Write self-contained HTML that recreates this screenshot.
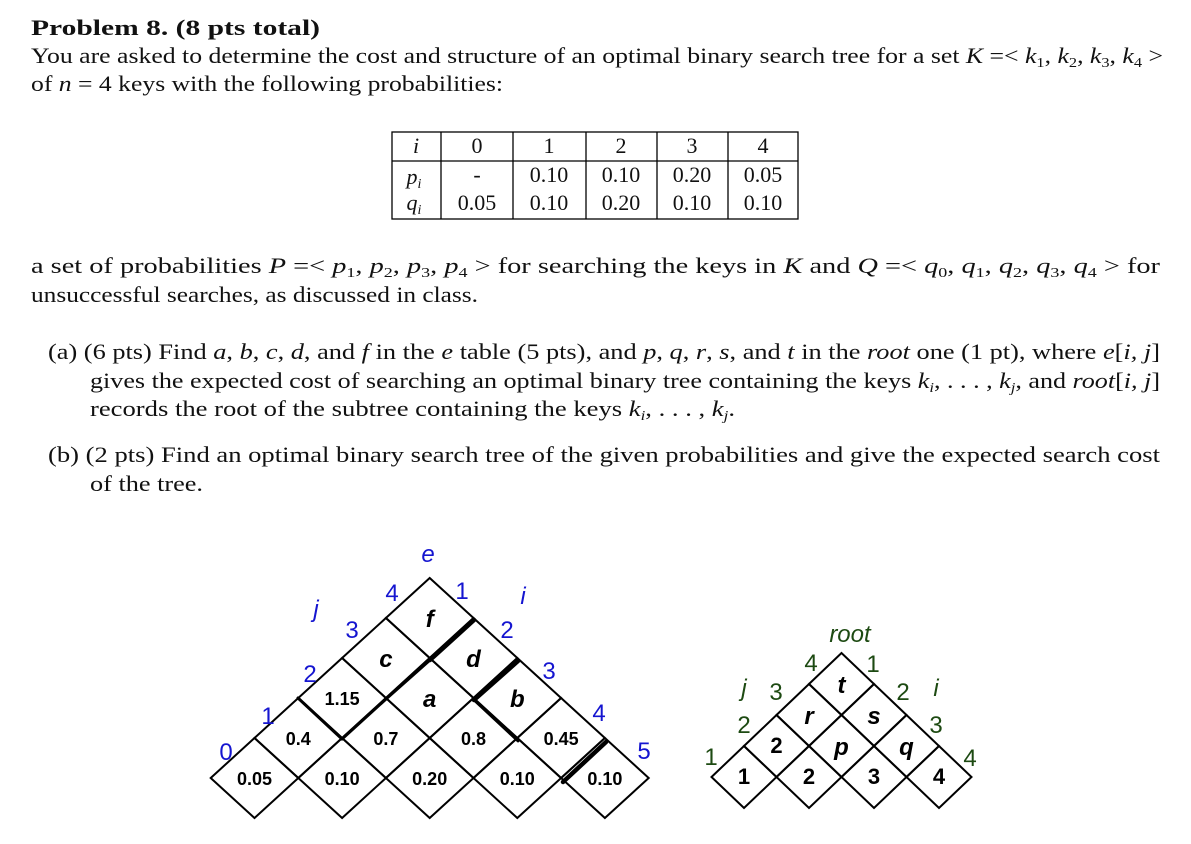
<!DOCTYPE html>
<html><head><meta charset="utf-8"><style>
html,body{margin:0;padding:0;background:#fff;}
svg{display:block;}
.t{font-family:"Liberation Serif",serif;font-size:22px;fill:#111;}
.it{font-style:italic;}
.s{font-size:14px;}
.lb{font-family:"Liberation Sans",sans-serif;font-size:24px;fill:#1515d0;}
.lg{font-family:"Liberation Sans",sans-serif;font-size:24px;fill:#1d4a12;}
.cv{font-family:"Liberation Sans",sans-serif;font-weight:bold;font-size:18px;fill:#000;}
.cr{font-family:"Liberation Sans",sans-serif;font-weight:bold;font-size:22px;fill:#000;}
</style></head><body>
<svg id="page" width="1191" height="844" viewBox="0 0 1191 844">
<text class="t" x="31" y="35" font-weight="bold" textLength="289" lengthAdjust="spacingAndGlyphs">Problem 8. (8 pts total)</text>
<text class="t" x="31" y="63" textLength="1132" lengthAdjust="spacingAndGlyphs">You are asked to determine the cost and structure of an optimal binary search tree for a set <tspan class="it">K</tspan> =&lt; <tspan class="it">k</tspan><tspan class="s" dy="4">1</tspan><tspan dy="-4">, </tspan><tspan class="it">k</tspan><tspan class="s" dy="4">2</tspan><tspan dy="-4">, </tspan><tspan class="it">k</tspan><tspan class="s" dy="4">3</tspan><tspan dy="-4">, </tspan><tspan class="it">k</tspan><tspan class="s" dy="4">4</tspan><tspan dy="-4"> &gt;</tspan></text>
<text class="t" x="31" y="91" textLength="472" lengthAdjust="spacingAndGlyphs">of <tspan class="it">n</tspan> = 4 keys with the following probabilities:</text>

<g stroke="#000" stroke-width="1.3">
<rect x="392" y="132" width="406" height="87" fill="none"/>
<line x1="392" y1="161" x2="798" y2="161"/>
<line x1="441" y1="132" x2="441" y2="219"/>
<line x1="513" y1="132" x2="513" y2="219"/>
<line x1="586" y1="132" x2="586" y2="219"/>
<line x1="657" y1="132" x2="657" y2="219"/>
<line x1="728" y1="132" x2="728" y2="219"/>
</g>
<g class="t" text-anchor="middle">
<text x="416" y="153" class="t it">i</text><text x="477" y="153" class="t">0</text><text x="549" y="153" class="t">1</text><text x="621" y="153" class="t">2</text><text x="692" y="153" class="t">3</text><text x="763" y="153" class="t">4</text>
<text x="414" y="184" class="t"><tspan class="it">p</tspan><tspan class="s it" dy="4">i</tspan></text><text x="477" y="182" class="t">-</text><text x="549" y="182" class="t">0.10</text><text x="621" y="182" class="t">0.10</text><text x="692" y="182" class="t">0.20</text><text x="763" y="182" class="t">0.05</text>
<text x="414" y="210" class="t"><tspan class="it">q</tspan><tspan class="s it" dy="4">i</tspan></text><text x="477" y="210" class="t">0.05</text><text x="549" y="210" class="t">0.10</text><text x="621" y="210" class="t">0.20</text><text x="692" y="210" class="t">0.10</text><text x="763" y="210" class="t">0.10</text>
</g>

<text class="t" x="31" y="273" textLength="1129" lengthAdjust="spacingAndGlyphs">a set of probabilities <tspan class="it">P</tspan> =&lt; <tspan class="it">p</tspan><tspan class="s" dy="4">1</tspan><tspan dy="-4">, </tspan><tspan class="it">p</tspan><tspan class="s" dy="4">2</tspan><tspan dy="-4">, </tspan><tspan class="it">p</tspan><tspan class="s" dy="4">3</tspan><tspan dy="-4">, </tspan><tspan class="it">p</tspan><tspan class="s" dy="4">4</tspan><tspan dy="-4"> &gt; for searching the keys in </tspan><tspan class="it">K</tspan> and <tspan class="it">Q</tspan> =&lt; <tspan class="it">q</tspan><tspan class="s" dy="4">0</tspan><tspan dy="-4">, </tspan><tspan class="it">q</tspan><tspan class="s" dy="4">1</tspan><tspan dy="-4">, </tspan><tspan class="it">q</tspan><tspan class="s" dy="4">2</tspan><tspan dy="-4">, </tspan><tspan class="it">q</tspan><tspan class="s" dy="4">3</tspan><tspan dy="-4">, </tspan><tspan class="it">q</tspan><tspan class="s" dy="4">4</tspan><tspan dy="-4"> &gt; for</tspan></text>
<text class="t" x="31" y="302" textLength="447" lengthAdjust="spacingAndGlyphs">unsuccessful searches, as discussed in class.</text>

<text class="t" x="48" y="359" textLength="1112" lengthAdjust="spacingAndGlyphs">(a) (6 pts) Find <tspan class="it">a</tspan>, <tspan class="it">b</tspan>, <tspan class="it">c</tspan>, <tspan class="it">d</tspan>, and <tspan class="it">f</tspan> in the <tspan class="it">e</tspan> table (5 pts), and <tspan class="it">p</tspan>, <tspan class="it">q</tspan>, <tspan class="it">r</tspan>, <tspan class="it">s</tspan>, and <tspan class="it">t</tspan> in the <tspan class="it">root</tspan> one (1 pt), where <tspan class="it">e</tspan>[<tspan class="it">i, j</tspan>]</text>
<text class="t" x="90" y="388" textLength="1070" lengthAdjust="spacingAndGlyphs">gives the expected cost of searching an optimal binary tree containing the keys <tspan class="it">k</tspan><tspan class="s it" dy="4">i</tspan><tspan dy="-4">, . . . , </tspan><tspan class="it">k</tspan><tspan class="s it" dy="4">j</tspan><tspan dy="-4">, and </tspan><tspan class="it">root</tspan>[<tspan class="it">i, j</tspan>]</text>
<text class="t" x="90" y="416" textLength="645" lengthAdjust="spacingAndGlyphs">records the root of the subtree containing the keys <tspan class="it">k</tspan><tspan class="s it" dy="4">i</tspan><tspan dy="-4">, . . . , </tspan><tspan class="it">k</tspan><tspan class="s it" dy="4">j</tspan><tspan dy="-4">.</tspan></text>
<text class="t" x="48" y="462" textLength="1112" lengthAdjust="spacingAndGlyphs">(b) (2 pts) Find an optimal binary search tree of the given probabilities and give the expected search cost</text>
<text class="t" x="90" y="491" textLength="113" lengthAdjust="spacingAndGlyphs">of the tree.</text>

<g id="etable"></g>
<g id="rtable"></g>

<g stroke="#000" stroke-linecap="round">
<line x1="474" y1="620" x2="430" y2="660" stroke-width="4.5"/>
<line x1="518" y1="661" x2="474" y2="700" stroke-width="4.5"/>
<line x1="606" y1="742" x2="563" y2="782" stroke-width="4.5"/>
<line x1="298" y1="698" x2="342" y2="739" stroke-width="3"/>
<line x1="342" y1="739" x2="386" y2="699" stroke-width="3"/>
<line x1="386" y1="699" x2="430" y2="660" stroke-width="3"/>
<line x1="474" y1="700" x2="518" y2="741" stroke-width="2.8"/>
</g>

<g>
<text class="lb" x="428" y="562" text-anchor="middle" font-style="italic">e</text>
<text class="lb" x="316" y="617" text-anchor="middle" font-style="italic">j</text>
<text class="lb" x="523" y="604" text-anchor="middle" font-style="italic">i</text>
<text class="lb" x="226" y="760" text-anchor="middle">0</text>
<text class="lb" x="268" y="724" text-anchor="middle">1</text>
<text class="lb" x="310" y="682" text-anchor="middle">2</text>
<text class="lb" x="352" y="638" text-anchor="middle">3</text>
<text class="lb" x="392" y="601" text-anchor="middle">4</text>
<text class="lb" x="462" y="599" text-anchor="middle">1</text>
<text class="lb" x="507" y="638" text-anchor="middle">2</text>
<text class="lb" x="549" y="679" text-anchor="middle">3</text>
<text class="lb" x="599" y="721" text-anchor="middle">4</text>
<text class="lb" x="644" y="759" text-anchor="middle">5</text>
</g>
<g>
<text class="lg" x="850" y="642" text-anchor="middle" font-style="italic">root</text>
<text class="lg" x="744" y="696" text-anchor="middle" font-style="italic">j</text>
<text class="lg" x="936" y="696" text-anchor="middle" font-style="italic">i</text>
<text class="lg" x="711" y="765" text-anchor="middle">1</text>
<text class="lg" x="744" y="733" text-anchor="middle">2</text>
<text class="lg" x="776" y="700" text-anchor="middle">3</text>
<text class="lg" x="811" y="671" text-anchor="middle">4</text>
<text class="lg" x="873" y="672" text-anchor="middle">1</text>
<text class="lg" x="903" y="700" text-anchor="middle">2</text>
<text class="lg" x="936" y="733" text-anchor="middle">3</text>
<text class="lg" x="970" y="766" text-anchor="middle">4</text>
</g>

<script>
// e table values: rows from bottom (row 0 has 5 cells) to top
const eRow0 = ["0.05","0.10","0.20","0.10","0.10"];
const eRow1 = ["0.4","0.7","0.8","0.45"];
const eRow2 = ["1.15","a","b"];
const eRow3 = ["c","d"];
const eRow4 = ["f"];
const rRow0 = ["1","2","3","4"];
const rRow1 = ["2","p","q"];
const rRow2 = ["r","s"];
const rRow3 = ["t"];
const NS = "http://www.w3.org/2000/svg";
function drawTri(gid, rows, x0, y0, hw, hh, cls, letterSize){
  const g = document.getElementById(gid);
  rows.forEach((row, r) => {
    row.forEach((v, k) => {
      const cx = x0 + hw*r + 2*hw*k;
      const cy = y0 - hh*r;
      const p = document.createElementNS(NS, "polygon");
      p.setAttribute("points", `${cx-hw},${cy} ${cx},${cy-hh} ${cx+hw},${cy} ${cx},${cy+hh}`);
      p.setAttribute("fill", "none");
      p.setAttribute("stroke", "#000");
      p.setAttribute("stroke-width", "2");
      
      
      g.appendChild(p);
      const t = document.createElementNS(NS, "text");
      t.setAttribute("x", cx);
      t.setAttribute("text-anchor", "middle");
      t.setAttribute("class", cls);
      if (/^[a-z]$/.test(v)) {
        t.style.fontStyle = "italic";
        t.style.fontSize = letterSize;
        t.setAttribute("y", cy + 9);
      } else {
        t.setAttribute("y", cy + 7);
      }
      t.textContent = v;
      
      
      g.appendChild(t);
    });
  });
}
drawTri("etable", [eRow0,eRow1,eRow2,eRow3,eRow4], 254.5, 778, 43.8, 40, "cv", "24px");
drawTri("rtable", [rRow0,rRow1,rRow2,rRow3], 744, 777, 32.5, 31, "cr", "24px");
</script>
</svg>
</body></html>
